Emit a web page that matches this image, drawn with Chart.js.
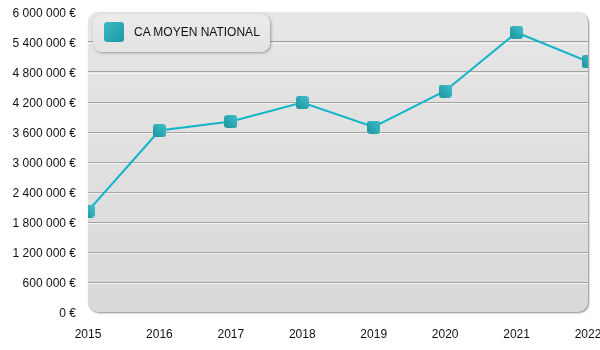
<!DOCTYPE html>
<html>
<head>
<meta charset="utf-8">
<script src="https://cdn.jsdelivr.net/npm/chart.js@4.4.0/dist/chart.umd.min.js"></script>
<style>
  body { margin: 0; background: #fff; }
  #wrap { position: relative; width: 600px; height: 350px; }
  #legend {
    position: absolute; left: 93px; top: 14px; width: 177px; height: 38px;
    box-sizing: border-box; border-radius: 9px;
    background: linear-gradient(#ebebeb, #e3e3e3);
    box-shadow: 1px 1px 3px rgba(0,0,0,0.35);
    font: 12px "Liberation Sans", Arial, sans-serif; color: #111;
  }
  #legend .sw {
    position: absolute; left: 11px; top: 8px; width: 20px; height: 20px; border-radius: 3px;
    background: linear-gradient(135deg, #3cbcc5, #1b97a3);
  }
  #legend .txt { position: absolute; left: 41px; top: 11px; white-space: nowrap; }
</style>
</head>
<body>
<div id="wrap">
  <canvas id="myChart" width="600" height="350"></canvas>
  <div id="legend"><div class="sw"></div><div class="txt">CA MOYEN NATIONAL</div></div>
</div>
<script>
// data
const years = ["2015", "2016", "2017", "2018", "2019", "2020", "2021", "2022"];
const caMoyen = [2020000, 3630000, 3810000, 4190000, 3700000, 4420000, 5590000, 5010000];
const seriesName = "CA MOYEN NATIONAL";
const yMax = 6000000;
const yStep = 600000;

function formatEuro(v) {
  return String(v).replace(/\B(?=(\d{3})+(?!\d))/g, " ") + " €";
}

// square marker with gradient
function makeMarker() {
  const c = document.createElement("canvas");
  c.width = 13;
  c.height = 13;
  const g = c.getContext("2d");
  const grad = g.createLinearGradient(0, 13, 13, 0);
  grad.addColorStop(0, "#1a94a0");
  grad.addColorStop(1, "#40c0c9");
  g.fillStyle = grad;
  g.beginPath();
  g.roundRect(0, 0, 13, 13, 3);
  g.fill();
  return c;
}

// rounded grey plot background
const plotBox = {
  id: "plotBox",
  beforeDraw(chart) {
    const { ctx, chartArea: a } = chart;
    ctx.save();
    ctx.shadowColor = "rgba(0,0,0,0.45)";
    ctx.shadowOffsetX = 1;
    ctx.shadowOffsetY = 1;
    ctx.shadowBlur = 2;
    const grad = ctx.createLinearGradient(0, a.top, 0, a.bottom);
    grad.addColorStop(0, "#e6e6e6");
    grad.addColorStop(1, "#d9d9d9");
    ctx.fillStyle = grad;
    ctx.beginPath();
    ctx.roundRect(a.left, a.top, a.right - a.left, a.bottom - a.top, 10);
    ctx.fill();
    ctx.restore();
  },
  beforeDatasetsDraw(chart) {
    // white highlight under each grid line
    const { ctx, chartArea: a, scales } = chart;
    ctx.save();
    ctx.strokeStyle = "#f4f4f4";
    ctx.lineWidth = 1;
    scales.y.ticks.forEach((t) => {
      if (t.value <= 0 || t.value >= yMax) return;
      const y = Math.round(scales.y.getPixelForValue(t.value)) + 1.5;
      ctx.beginPath();
      ctx.moveTo(a.left, y);
      ctx.lineTo(a.right, y);
      ctx.stroke();
    });
    ctx.restore();
  },
};

Chart.defaults.font.family = '"Liberation Sans", Arial, sans-serif';
Chart.defaults.font.size = 12;
Chart.defaults.color = "#111";

const myChart = new Chart("myChart", {
  type: "line",
  data: {
    labels: years,
    datasets: [
      {
        label: seriesName,
        data: caMoyen,
        borderColor: "#12b4c8",
        borderWidth: 2,
        pointStyle: makeMarker(),
        pointRadius: 7,
        tension: 0,
        clip: 0,
      },
    ],
  },
  options: {
    responsive: false,
    animation: false,
    layout: { padding: { top: 12, right: 12, left: 0, bottom: 0 } },
    plugins: { legend: { display: false }, tooltip: { enabled: false } },
    scales: {
      x: {
        offset: false,
        grid: { display: false, drawTicks: false },
        border: { display: false },
        ticks: { padding: 15, maxRotation: 0, autoSkip: false },
        afterFit(axis) {
          axis.height = 38;
          axis.paddingLeft = 0;
          axis.paddingRight = 0;
        },
      },
      y: {
        min: 0,
        max: yMax,
        border: { display: false },
        grid: {
          drawTicks: false,
          color: (c) => (c.tick && (c.tick.value === 0 || c.tick.value === yMax) ? "rgba(0,0,0,0)" : "#a3a3a3"),
        },
        ticks: { stepSize: yStep, padding: 12, labelOffset: 2, callback: (v) => formatEuro(v) },
        afterFit(axis) {
          axis.width = 88;
          axis.paddingTop = 0;
          axis.paddingBottom = 0;
        },
      },
    },
  },
  plugins: [plotBox],
});
</script>
</body>
</html>
